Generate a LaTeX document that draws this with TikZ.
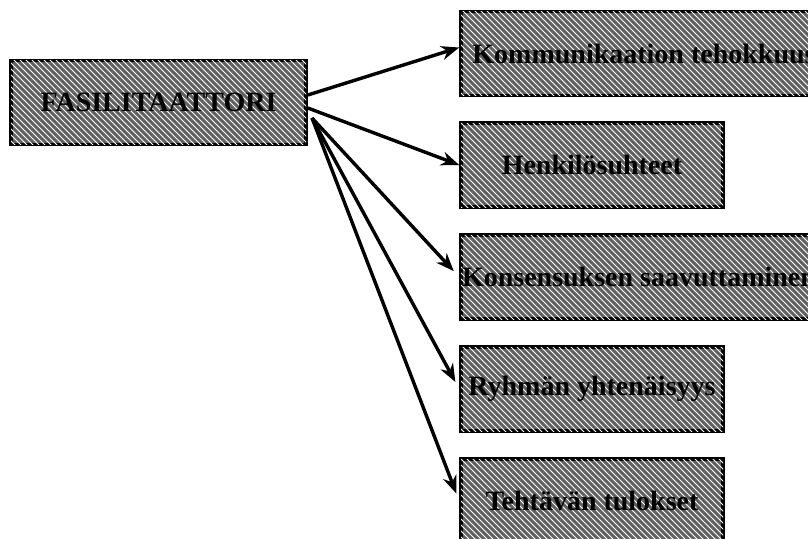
\documentclass[tikz,border=0pt]{standalone}
\usepackage{fontspec}
\setmainfont{Liberation Serif}
\usepackage{tikz}
\usetikzlibrary{arrows.meta,patterns}

\begin{document}
\begin{tikzpicture}[x=0.5pt, y=-0.5pt,
    box/.style={draw, line width=1.8pt, fill=black!62,
      postaction={pattern=north west lines, pattern color=white},
      minimum height=42pt, inner xsep=0pt,
      font=\fontsize{14}{16}\selectfont\bfseries},
    arr/.style={line width=1.7pt, -{Stealth[length=9pt,width=7pt]}}]
    \useasboundingbox (0,0) rectangle (808,538);
    \clip (0,0) rectangle (808,538);
    \node[box, minimum width=147.5pt] (F) at (158.5,102.5){FASILITAATTORI};
    \node[box, minimum width=183pt] (KT) at (644,53.5){Kommunikaation tehokkuus};
    \node[box, minimum width=131pt] (HS) at (592,165){Henkilösuhteet};
    \node[box, minimum width=178pt] (KS) at (639,277){Konsensuksen saavuttaminen};
    \node[box, minimum width=131pt] (RY) at (592,389){Ryhmän yhtenäisyys};
    \node[box, minimum width=131pt] (TT) at (592,501){Tehtävän tulokset};
    \coordinate (fan) at (312,118);
    \draw[arr] ([yshift=3.75pt]F.east)--([yshift=3pt]KT.west);
    \draw[arr] ([yshift=-2.75pt]F.east)--(HS.west);
    \draw[arr, shorten >=4pt] (fan)--(KS.west);
    \draw[arr, shorten >=4pt] (fan)--(RY.west);
    \draw[arr, shorten >=4pt] (fan)--(TT.west);
  \end{tikzpicture}
\end{document}
